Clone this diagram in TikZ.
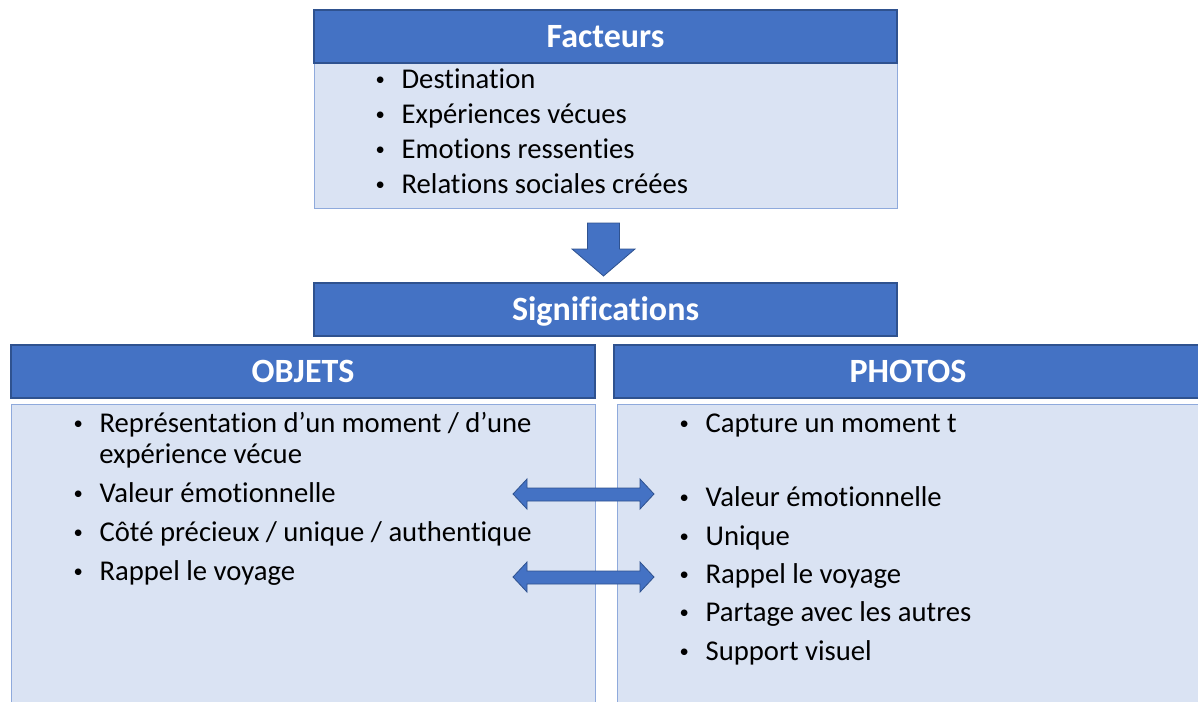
\documentclass[tikz,border=0pt]{standalone}
\usepackage{fontspec}
\setmainfont[Ligatures={NoCommon}]{Carlito}
\definecolor{hdblue}{HTML}{4472C4}
\definecolor{hdline}{HTML}{2F528F}
\definecolor{pnfill}{HTML}{DAE3F3}
\definecolor{pnline}{HTML}{8FAADC}
\newcommand{\bul}[1]{\makebox[20.5pt][l]{\hspace{1pt}\raisebox{2.3pt}{\fontsize{14}{14}\selectfont\textbullet}}#1}

\begin{document}
\begin{tikzpicture}[x=0.75pt,y=-0.75pt,
  head/.style={draw=hdline, fill=hdblue, line width=0.8pt, text=white,
    font=\bfseries\fontsize{25.5}{30}\selectfont, inner sep=0pt,
    text height=16.4pt, text depth=0pt},
  panel/.style={draw=pnline, fill=pnfill, line width=0.6pt, inner sep=0pt},
  itm/.style={anchor=base west, inner sep=0pt, font=\fontsize{21.5}{25}\selectfont},
  blockarrow/.style={draw=hdline, fill=hdblue, line width=0.6pt, line join=miter}]
\useasboundingbox (0,0) rectangle (1198,701);

% facteurs
\node[panel, minimum width=437.25pt, minimum height=108.75pt] (fbody) at (605.5,135.5) {};
\node[head, minimum width=437.25pt, minimum height=39.75pt] (fhead) at (605.5,36.5) {Facteurs};
\node[itm] (f1) at (374,88.5) {\bul{Destination}};
\node[itm] (f2) at (374,123.5) {\bul{Expériences vécues}};
\node[itm] (f3) at (374,158.5) {\bul{Emotions ressenties}};
\node[itm] (f4) at (374,193.5) {\bul{Relations sociales créées}};

% significations
\node[head, minimum width=437.25pt, minimum height=39.75pt] (signif) at (605.5,309.5) {Significations};
\draw[blockarrow] (587.5,223) -- (619.5,223) -- (619.5,249) -- (635,249)
  -- (603.5,276) -- (572,249) -- (587.5,249) -- cycle;

% objets
\node[panel, minimum width=438pt, minimum height=229.5pt] (obody) at (303,557) {};
\node[head, minimum width=438pt, minimum height=39.75pt] (ohead) at (303,371.5) {OBJETS};
\node[itm] (o1) at (72,432.5) {\bul{Représentation d’un moment / d’une}};
\node[itm] (o1b) at (99,463.5) {expérience vécue};
\node[itm] (o2) at (72,502.5) {\bul{Valeur émotionnelle}};
\node[itm] (o3) at (72,541.5) {\bul{Côté précieux / unique / authentique}};
\node[itm] (o4) at (72,580.5) {\bul{Rappel le voyage}};

% photos
\node[panel, minimum width=438.75pt, minimum height=229.5pt] (pbody) at (909.5,557) {};
\node[head, minimum width=441pt, minimum height=39.75pt] (phead) at (908,371.5) {PHOTOS};
\node[itm] (p1) at (678,432.5) {\bul{Capture un moment t}};
\node[itm] (p2) at (678,506.5) {\bul{Valeur émotionnelle}};
\node[itm] (p3) at (678,545.5) {\bul{Unique}};
\node[itm] (p4) at (678,583.5) {\bul{Rappel le voyage}};
\node[itm] (p5) at (678,621.5) {\bul{Partage avec les autres}};
\node[itm] (p6) at (678,660.5) {\bul{Support visuel}};

% liens
\draw[blockarrow] (513,494) -- (527,479) -- (527,488) -- (640,488) -- (640,479)
  -- (654,494) -- (640,509) -- (640,501) -- (527,501) -- (527,509) -- cycle;
\draw[blockarrow] (513,577) -- (527,562) -- (527,571) -- (640,571) -- (640,562)
  -- (654,577) -- (640,592) -- (640,584) -- (527,584) -- (527,592) -- cycle;
\end{tikzpicture}
\end{document}
